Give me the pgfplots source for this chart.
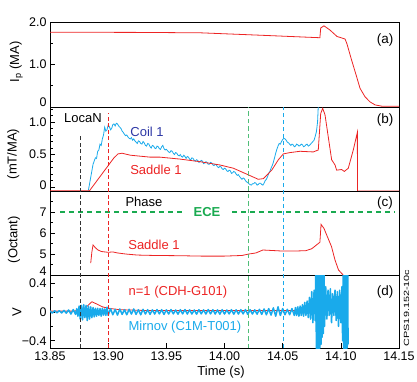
\documentclass[border=0pt]{standalone}
\usepackage{fontspec}
\setmainfont{Liberation Sans}
\usepackage{pgfplots}
\pgfplotsset{compat=1.18}
\definecolor{myred}{RGB}{236,36,36}
\definecolor{mycyan}{RGB}{25,170,235}
\definecolor{coilblue}{RGB}{45,55,165}
\definecolor{mygreen}{RGB}{25,170,80}
\definecolor{vgreen}{RGB}{80,190,120}
\newcommand\lf{\fontsize{13}{15}\selectfont}
\pgfplotsset{
  panel/.style={
    scale only axis, width=349pt, xmin=13.85, xmax=14.15,
    axis line style={line width=0.8pt},
    tick style={black, line width=0.6pt},
    major tick length=5pt, minor tick length=3pt,
    tick align=inside, ytick pos=left, xtick pos=bottom,
    yticklabel style={font=\fontsize{12.5}{14}\selectfont},
    xticklabel style={font=\fontsize{12.5}{14}\selectfont},
    label style={font=\lf},
    /pgf/number format/assume math mode=true,
    anchor=north west,
  }
}
\begin{document}
\begin{tikzpicture}
\useasboundingbox (0,0) rectangle (417pt,-381pt);
% ---------- panel a ----------
\begin{axis}[panel, at={(50pt,-22pt)}, height=85pt, ymin=0, ymax=2,
  xtick=\empty,
  ytick={1,2}, yticklabels={1.0,2.0}, minor ytick={0.5,1.5},
  extra y ticks={0}, extra y tick labels={0},
  extra y tick style={yticklabel style={yshift=5pt}},
  ylabel={I\textsubscript{p} (MA)},
  ylabel style={at={(axis description cs:-0.097,0.53)}, anchor=center}]
\addplot[myred, line width=0.8pt] coordinates {
(13.85,1.76) (13.93,1.755) (13.98,1.745) (14.03,1.69) (14.082,1.63)
(14.0827,1.86) (14.0855,1.91) (14.0907,1.81) (14.0967,1.66) (14.1036,1.60)
(14.1051,1.50) (14.1093,1.10) (14.1136,0.71) (14.1165,0.44) (14.1208,0.24)
(14.1251,0.12) (14.1294,0.05) (14.135,0.02) (14.15,0.02)};
\node[font=\fontsize{11.5}{13}\selectfont, anchor=base west] at (axis description cs:0.014,1) [yshift=3pt] {JET Pulse No: 92462};
\node[font=\fontsize{13.5}{15}\selectfont] at (axis cs:14.138,1.58) {(a)};
\end{axis}
% ---------- panel b ----------
\begin{axis}[panel, at={(50pt,-107pt)}, height=84pt, ymin=-0.06, ymax=1.23,
  xtick=\empty,
  ytick={0.5,1}, yticklabels={0.5,1.0},
  minor ytick={0.1,0.2,0.3,0.4,0.6,0.7,0.8,0.9,1.1,1.2},
  extra y ticks={0}, extra y tick labels={0},
  extra y tick style={yticklabel style={yshift=2pt}},
  ylabel={(mT/MA)},
  ylabel style={at={(axis description cs:-0.105,0.44)}, anchor=center}]
\addplot[mycyan, line width=0.8pt] coordinates {
(13.883,-0.05) (13.885,0.15) (13.887,0.35) (13.888,0.40) (13.889,0.45) (13.890,0.44) (13.891,0.55)
(13.892,0.57) (13.893,0.66) (13.894,0.64) (13.895,0.74) (13.896,0.80) (13.897,0.92) (13.898,0.86) (13.899,0.88) (13.900,0.95) (13.901,0.93)
(13.902,0.88) (13.903,0.90) (13.904,0.96) (13.905,0.97) (13.906,0.94) (13.907,0.98) (13.908,0.97) (13.909,0.94) (13.910,0.92) (13.911,0.90)
(13.912,0.86) (13.913,0.84) (13.914,0.81) (13.915,0.79) (13.916,0.80) (13.917,0.77) (13.918,0.75) (13.919,0.74) (13.920,0.76) (13.921,0.72)
(13.922,0.74) (13.923,0.71) (13.924,0.69) (13.925,0.67) (13.926,0.71) (13.927,0.70) (13.928,0.67) (13.929,0.66) (13.930,0.70) (13.931,0.68)
(13.932,0.64) (13.933,0.63) (13.934,0.67) (13.935,0.66) (13.936,0.62) (13.937,0.60) (13.938,0.64) (13.939,0.63) (13.940,0.60) (13.941,0.59)
(13.942,0.63) (13.943,0.62) (13.944,0.59) (13.945,0.58) (13.946,0.62) (13.947,0.64) (13.948,0.59) (13.949,0.57) (13.950,0.58) (13.951,0.56)
(13.952,0.54) (13.953,0.53) (13.954,0.56) (13.955,0.55) (13.956,0.52) (13.957,0.50) (13.958,0.53) (13.959,0.52) (13.960,0.49) (13.961,0.48)
(13.962,0.50) (13.963,0.47) (13.964,0.46) (13.965,0.49) (13.966,0.47) (13.967,0.44) (13.968,0.47) (13.969,0.46) (13.970,0.43) (13.971,0.42)
(13.972,0.45) (13.973,0.44) (13.974,0.41) (13.975,0.40) (13.976,0.42) (13.977,0.41) (13.978,0.38) (13.979,0.39) (13.980,0.41) (13.981,0.40)
(13.982,0.36) (13.983,0.37) (13.984,0.39) (13.985,0.38) (13.986,0.35) (13.987,0.35) (13.988,0.38) (13.989,0.37) (13.990,0.34) (13.991,0.33)
(13.992,0.35) (13.993,0.34) (13.994,0.31) (13.995,0.30) (13.996,0.32) (13.997,0.31) (13.998,0.28) (13.999,0.27) (14.000,0.29) (14.001,0.28)
(14.002,0.25) (14.003,0.24) (14.004,0.26) (14.005,0.25) (14.006,0.21) (14.007,0.22) (14.008,0.24) (14.009,0.23) (14.010,0.20) (14.011,0.18)
(14.012,0.19) (14.013,0.16) (14.014,0.14) (14.015,0.12) (14.016,0.14) (14.017,0.13) (14.018,0.10) (14.019,0.08) (14.020,0.07) (14.021,0.05)
(14.022,0.04) (14.023,0.03) (14.024,0.05) (14.025,0.05) (14.026,0.07) (14.027,0.06) (14.028,0.03) (14.029,0.04) (14.030,0.06) (14.031,0.06)
(14.032,0.04) (14.033,0.03) (14.034,0.06) (14.035,0.10) (14.036,0.12) (14.037,0.16) (14.038,0.21) (14.039,0.24) (14.040,0.29) (14.041,0.33)
(14.042,0.38) (14.043,0.45) (14.044,0.52) (14.045,0.58) (14.046,0.63) (14.047,0.67) (14.048,0.66) (14.049,0.70) (14.050,0.73) (14.051,0.75)
(14.052,0.74) (14.053,0.72) (14.054,0.69) (14.055,0.68) (14.056,0.66) (14.057,0.64) (14.058,0.66) (14.059,0.65) (14.060,0.62) (14.061,0.63)
(14.062,0.66) (14.063,0.65) (14.064,0.63) (14.065,0.64) (14.066,0.66) (14.067,0.65) (14.068,0.62) (14.069,0.63) (14.070,0.65) (14.071,0.66)
(14.072,0.63) (14.073,0.64) (14.074,0.66) (14.075,0.68) (14.076,0.70) (14.077,0.72) (14.078,0.78) (14.079,0.85) (14.080,1.00)
(14.081,1.40)};
\addplot[myred, line width=0.8pt] coordinates {
(13.85,-0.055) (13.884,-0.055) (13.905,0.45) (13.9085,0.51) (13.912,0.52)
(13.919,0.49) (13.936,0.46) (13.9446,0.46) (13.9618,0.43) (13.979,0.39)
(13.996,0.34) (14.0076,0.29) (14.019,0.20) (14.029,0.12) (14.0334,0.13)
(14.0406,0.26) (14.0463,0.42) (14.0506,0.51) (14.0563,0.53) (14.0649,0.55)
(14.0763,0.54) (14.0806,0.57) (14.0827,1.13) (14.0844,1.21) (14.0864,1.11)
(14.0892,0.77) (14.0921,0.42) (14.095,0.34) (14.0964,0.26) (14.1007,0.27)
(14.103,0.24) (14.1064,0.29) (14.1107,0.57) (14.1142,0.84) (14.1143,-0.06)
(14.15,-0.06)};
\node[font=\lf] at (axis cs:13.8784,1.06) {LocaN};
\node[font=\lf, text=coilblue] at (axis cs:13.9334,0.846) {Coil 1};
\node[font=\lf, text=myred] at (axis cs:13.9411,0.26) {Saddle 1};
\node[font=\fontsize{13.5}{15}\selectfont] at (axis cs:14.138,1.03) {(b)};
\end{axis}
% ---------- panel c ----------
\begin{axis}[panel, at={(50pt,-191pt)}, height=84pt, ymin=4, ymax=8,
  xtick=\empty,
  ytick={5,6,7}, minor ytick={4.5,5.5,6.5,7.5},
  extra y ticks={4}, extra y tick labels={4},
  extra y tick style={yticklabel style={yshift=4pt}},
  ylabel={(Octant)},
  ylabel style={at={(axis description cs:-0.103,0.42)}, anchor=center}]
\addplot[mygreen, line width=1.6pt, dash pattern=on 5pt off 4pt] coordinates {(13.8586,7) (13.9643,7)};
\addplot[mygreen, line width=1.6pt, dash pattern=on 5pt off 4pt] coordinates {(14.0065,7) (14.1466,7)};
\addplot[myred, line width=0.8pt] coordinates {
(13.885,4.57) (13.886,5.10) (13.887,5.43) (13.889,5.30) (13.891,5.20)
(13.894,5.12) (13.897,5.10) (13.900,5.08) (13.904,5.10) (13.908,5.05)
(13.915,5.00) (13.925,4.95) (13.94,4.93) (13.96,4.92) (13.98,4.90)
(14.00,4.90) (14.015,4.93) (14.021,5.00) (14.027,5.05) (14.033,5.19)
(14.04,5.17) (14.05,5.14) (14.06,5.14) (14.07,5.16) (14.075,5.25)
(14.082,5.56) (14.083,6.41) (14.0855,6.22) (14.089,5.75) (14.092,5.35)
(14.095,4.71) (14.098,4.24) (14.100,4.12) (14.102,4.0)};
\node[font=\lf] at (axis cs:13.9308,7.48) {Phase};
\node[font=\lf\bfseries, text=mygreen] at (axis cs:13.985,7.0) {ECE};
\node[font=\lf, text=myred] at (axis cs:13.9394,5.43) {Saddle 1};
\node[font=\fontsize{13.5}{15}\selectfont] at (axis cs:14.138,7.43) {(c)};
\end{axis}
% ---------- panel d ----------
\begin{axis}[panel, at={(50pt,-275pt)}, height=73pt, ymin=-0.5, ymax=0.51,
  xtick={13.85,13.90,13.95,14.00,14.05,14.10,14.15},
  xticklabels={13.85,13.90,13.95,14.00,14.05,14.10,14.15},
  ytick={-0.4,0,0.4}, yticklabels={−0.4,0,0.4}, minor ytick={-0.2,0.2},
  xlabel={Time (s)},
  xlabel style={at={(axis description cs:0.49,-0.33)}, anchor=center},
  ylabel={V},
  ylabel style={at={(axis description cs:-0.095,0.49)}, anchor=center}]
\addplot[myred, line width=0.8pt] coordinates {
(13.85,0.01) (13.87,0.01) (13.878,0.03) (13.882,0.08) (13.886,0.14)
(13.89,0.11) (13.895,0.07) (13.90,0.05) (13.91,0.03) (13.93,0.02)
(14.07,0.02)};
\addplot[mycyan, line width=1.5pt, line join=round] coordinates {
(13.850,0.012) (13.852,-0.016) (13.854,0.015) (13.856,-0.013) (13.858,0.017)
(13.860,-0.015) (13.862,0.02) (13.864,-0.018) (13.866,0.026) (13.868,-0.03)
(13.870,0.032) (13.872,-0.036)
(13.873,0.045) (13.874,-0.06) (13.875,0.08) (13.876,-0.1) (13.877,0.09)
(13.878,-0.11) (13.879,0.1) (13.880,-0.08) (13.881,0.09) (13.882,-0.12)
(13.883,0.08) (13.884,-0.1) (13.885,0.07) (13.886,-0.08) (13.887,0.06)
(13.888,-0.07) (13.889,0.05) (13.890,-0.06) (13.891,0.05) (13.892,-0.05)
(13.893,0.045) (13.894,-0.06) (13.895,0.05) (13.896,-0.045) (13.897,0.04)
(13.898,-0.05) (13.899,0.065) (13.900,-0.05)
(13.902,0.045) (13.904,-0.04) (13.906,0.035) (13.908,-0.045) (13.910,0.04)
(13.912,-0.035) (13.914,0.03) (13.916,-0.04) (13.918,0.035) (13.920,-0.03)
(13.922,0.04) (13.924,-0.035) (13.926,0.03) (13.928,-0.04) (13.930,0.035)
(13.932,-0.03) (13.934,0.03) (13.936,-0.035) (13.938,0.028) (13.940,-0.03)
(13.942,0.032) (13.944,-0.028) (13.946,0.03) (13.948,-0.035) (13.950,0.028)
(13.952,-0.03) (13.954,0.032) (13.956,-0.028) (13.958,0.026) (13.960,-0.032)
(13.962,0.03) (13.964,-0.028) (13.966,0.032) (13.968,-0.03) (13.970,0.028)
(13.972,-0.03) (13.974,0.026) (13.976,-0.032) (13.978,0.03) (13.980,-0.028)
(13.982,0.028) (13.984,-0.03) (13.986,0.032) (13.988,-0.028) (13.990,0.03)
(13.992,-0.03) (13.994,0.028) (13.996,-0.032) (13.998,0.03) (14.000,-0.03)
(14.002,0.026) (14.004,-0.028) (14.006,0.03) (14.008,-0.032) (14.010,0.028)
(14.012,-0.03) (14.014,0.03) (14.016,-0.028) (14.018,0.032) (14.020,-0.035)
(14.022,0.03) (14.024,-0.03) (14.026,0.028) (14.028,-0.032) (14.030,0.035)
(14.032,-0.035) (14.034,0.04) (14.036,-0.04) (14.038,0.045) (14.040,-0.045)
(14.042,0.055) (14.044,-0.06) (14.046,0.07) (14.048,-0.05) (14.050,0.045)
(14.052,-0.04) (14.054,0.035) (14.056,-0.04) (14.058,0.045) (14.060,-0.05)
(14.061,0.06) (14.062,-0.05) (14.063,0.07) (14.064,-0.06) (14.065,0.08)
(14.066,-0.05) (14.067,0.1) (14.068,-0.06) (14.069,0.13) (14.070,-0.05)
(14.071,0.15) (14.072,-0.08) (14.073,0.2) (14.074,-0.1) (14.075,0.28)
(14.076,-0.15) (14.077,0.3) (14.078,-0.12)
(14.0785,0.6) (14.079,-0.6) (14.0795,0.6) (14.080,-0.6) (14.0805,0.6)
(14.081,-0.55) (14.0815,0.6) (14.082,-0.5) (14.0825,0.6) (14.083,-0.45)
(14.0835,0.6) (14.084,-0.35) (14.0845,0.6) (14.085,-0.3) (14.0855,0.6)
(14.086,-0.2) (14.087,0.35) (14.088,-0.1) (14.089,0.3) (14.090,-0.05)
(14.091,0.32) (14.092,-0.15) (14.093,0.25) (14.094,-0.05) (14.095,0.3)
(14.096,-0.12) (14.097,0.28) (14.098,-0.2) (14.099,0.3) (14.100,-0.15)
(14.101,0.35) (14.1015,-0.4) (14.102,0.6) (14.1025,-0.6) (14.103,0.6)
(14.1035,-0.6) (14.104,0.6) (14.1045,-0.6) (14.105,0.6) (14.1055,-0.5)
(14.106,0.6) (14.1062,-0.45)};
\node[font=\lf, text=myred] at (axis cs:13.96,0.276) {n=1 (CDH-G101)};
\node[font=\lf, text=mycyan] at (axis cs:13.966,-0.207) {Mirnov (C1M-T001)};
\node[font=\fontsize{13.5}{15}\selectfont] at (axis cs:14.138,0.276) {(d)};
\end{axis}
% ---------- vertical markers ----------
\begin{axis}[scale only axis, anchor=north west, at={(50pt,-107pt)}, width=349pt, height=241pt,
  xmin=13.85, xmax=14.15, ymin=0, ymax=1, hide axis, clip=false]
\addplot[black!80, line width=0.8pt, dash pattern=on 4pt off 2.5pt] coordinates {(13.876,0) (13.876,0.884)};
\addplot[myred, line width=0.8pt, dash pattern=on 4pt off 2.5pt] coordinates {(13.900,0) (13.900,0.975)};
\addplot[vgreen, line width=1.1pt, dash pattern=on 4.5pt off 3pt] coordinates {(14.021,0) (14.021,1)};
\addplot[mycyan, line width=0.9pt, dash pattern=on 4pt off 3pt] coordinates {(14.051,0) (14.051,1)};
\end{axis}
\node[font=\fontsize{7.5}{9}\selectfont, rotate=90, xscale=1.45, anchor=center] at (406.5pt,-308pt) {CPS19.152-10c};
\end{tikzpicture}
\end{document}
